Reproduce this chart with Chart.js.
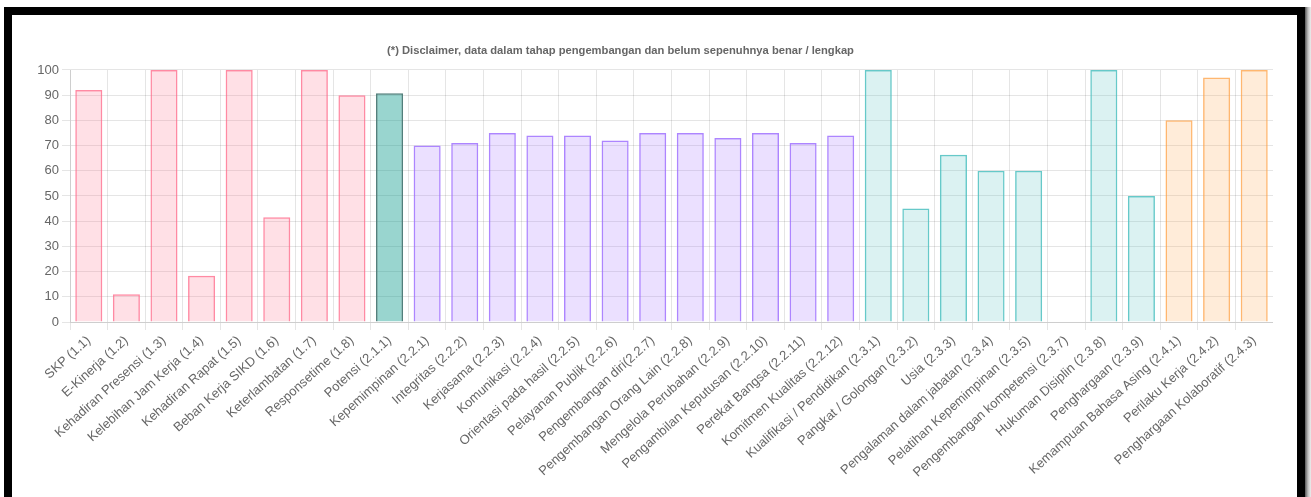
<!DOCTYPE html>
<html>
<head>
<meta charset="utf-8">
<script src="https://cdn.jsdelivr.net/npm/chart.js@4/dist/chart.umd.min.js"></script>
<style>
  html, body { margin: 0; padding: 0; background: #fff; width: 1311px; height: 497px; overflow: hidden; }
  #frame { position: absolute; left: 4px; top: 7px; width: 1285px; height: 487px; border: 8px solid #000; box-sizing: content-box; }
  #shadow { position: absolute; left: 1305px; top: 7px; width: 6px; height: 490px; background: linear-gradient(to right, #555, #bbb, #eee); }
  #panel { position: absolute; left: 12px; top: 15px; width: 1285px; height: 479px; overflow: hidden; background: #fff; }
  #chart { position: absolute; left: -44px; top: 0px; }
</style>
</head>
<body>
<div id="frame"></div>
<div id="shadow"></div>
<div id="panel"><canvas id="chart" width="1305" height="479" style="width:1305px;height:479px"></canvas></div>
<script>
const titleText = "(*) Disclaimer, data dalam tahap pengembangan dan belum sepenuhnya benar / lengkap";

const categories = [
  "SKP (1.1)", "E-Kinerja (1.2)", "Kehadiran Presensi (1.3)", "Kelebihan Jam Kerja (1.4)",
  "Kehadiran Rapat (1.5)", "Beban Kerja SIKD (1.6)", "Keterlambatan (1.7)", "Responsetime (1.8)",
  "Potensi (2.1.1)",
  "Kepemimpinan (2.2.1)", "Integritas (2.2.2)", "Kerjasama (2.2.3)", "Komunikasi (2.2.4)",
  "Orientasi pada hasil (2.2.5)", "Pelayanan Publik (2.2.6)", "Pengembangan diri(2.2.7)",
  "Pengembangan Orang Lain (2.2.8)", "Mengelola Perubahan (2.2.9)", "Pengambilan Keputusan (2.2.10)",
  "Perekat Bangsa (2.2.11)", "Komitmen Kualitas (2.2.12)",
  "Kualifikasi / Pendidikan (2.3.1)", "Pangkat / Golongan (2.3.2)", "Usia (2.3.3)",
  "Pengalaman dalam jabatan (2.3.4)", "Pelatihan Kepemimpinan (2.3.5)", "Pengembangan kompetensi (2.3.7)",
  "Hukuman Disiplin (2.3.8)", "Penghargaan (2.3.9)",
  "Kemampuan Bahasa Asing (2.4.1)", "Perilaku Kerja (2.4.2)", "Penghargaan Kolaboratif (2.4.3)"
];

const values = [
  92, 11, 100, 18.3, 100, 41.6, 100, 90,
  90.8,
  70, 71, 75, 74, 74, 72, 75, 75, 73, 75, 71, 74,
  100, 45, 66.4, 60, 60, 0, 100, 50,
  80, 97, 100
];

// group of each category
const groups = [
  "kinerja", "kinerja", "kinerja", "kinerja", "kinerja", "kinerja", "kinerja", "kinerja",
  "potensi",
  "kompetensi", "kompetensi", "kompetensi", "kompetensi", "kompetensi", "kompetensi", "kompetensi",
  "kompetensi", "kompetensi", "kompetensi", "kompetensi", "kompetensi",
  "kualifikasi", "kualifikasi", "kualifikasi", "kualifikasi", "kualifikasi", "kualifikasi", "kualifikasi", "kualifikasi",
  "perilaku", "perilaku", "perilaku"
];

const yTicks = [0, 10, 20, 30, 40, 50, 60, 70, 80, 90, 100];

const fillByGroup = {
  kinerja: "rgba(255, 99, 132, 0.2)",
  potensi: "rgba(0, 150, 136, 0.4)",
  kompetensi: "rgba(153, 102, 255, 0.2)",
  kualifikasi: "rgba(75, 192, 192, 0.2)",
  perilaku: "rgba(255, 159, 64, 0.2)"
};
const borderByGroup = {
  kinerja: "rgba(255, 99, 132, 0.75)",
  potensi: "#527f7b",
  kompetensi: "rgba(153, 102, 255, 0.8)",
  kualifikasi: "rgba(75, 192, 192, 0.85)",
  perilaku: "rgba(255, 159, 64, 0.75)"
};

Chart.defaults.font.family = "'Liberation Sans', Arial, Helvetica, sans-serif";
Chart.defaults.font.size = 13;
Chart.defaults.color = "#666";

new Chart(document.getElementById("chart"), {
  type: "bar",
  data: {
    labels: categories,
    datasets: [{
      label: "Nilai",
      data: values,
      backgroundColor: groups.map(g => fillByGroup[g]),
      borderColor: groups.map(g => borderByGroup[g]),
      borderWidth: 1.5
    }]
  },
  options: {
    responsive: false,
    animation: false,
    devicePixelRatio: 1,
    layout: { padding: 0 },
    plugins: {
      legend: { display: false },
      tooltip: { enabled: false },
      title: {
        display: true,
        text: titleText,
        color: "#666",
        font: { size: 11.2, weight: "bold" },
        padding: { top: 29, bottom: 12.5 }
      }
    },
    scales: {
      x: {
        grid: { color: "rgba(0,0,0,0.1)", tickLength: 8 },
        ticks: { minRotation: 42, maxRotation: 42, autoSkip: false, color: "#666", font: { size: 13 } },
        afterFit: (s) => { s.height = 172; }
      },
      y: {
        min: 0,
        max: 100,
        grid: { color: "rgba(0,0,0,0.1)", tickLength: 8 },
        afterBuildTicks: (s) => { s.ticks = yTicks.map(v => ({ value: v })); },
        ticks: { color: "#666", font: { size: 13 } },
        afterFit: (s) => { s.width = 102; }
      }
    }
  }
});
</script>
</body>
</html>
